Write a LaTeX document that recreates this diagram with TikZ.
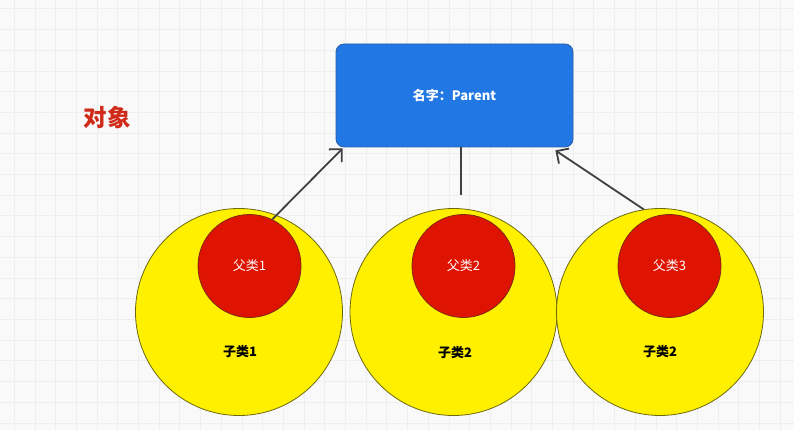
\documentclass[tikz,border=0pt]{standalone}
\usepackage{fontspec}
\setmainfont{Noto Sans CJK SC}
\usetikzlibrary{arrows.meta}
\definecolor{bgc}{HTML}{F9F9F9}
\definecolor{gridc}{HTML}{EEEEEE}
\definecolor{boxblue}{HTML}{2178E4}
\definecolor{boxedge}{HTML}{2E5EA6}
\definecolor{yel}{HTML}{FFF000}
\definecolor{yeledge}{HTML}{6E6A10}
\definecolor{redf}{HTML}{DF1400}
\definecolor{rededge}{HTML}{7E2A12}
\definecolor{titlered}{HTML}{D02A18}
\definecolor{linec}{HTML}{404040}
\tikzset{
  outer/.style={circle, draw=yeledge, fill=yel, line width=0.8pt, inner sep=0pt, minimum size=207pt},
  inner/.style={circle, draw=rededge, fill=redf, line width=0.8pt, inner sep=0pt, minimum size=103pt, text=white, font=\fontsize{13}{15}\selectfont},
  sublabel/.style={font=\fontsize{13}{15}\selectfont\bfseries, text=black},
  arr/.style={draw=linec, line width=1.8pt, -{Straight Barb[length=9pt,width=18pt]}},
  plain/.style={draw=linec, line width=1.8pt}
}
\begin{document}
\begin{tikzpicture}[x=1pt,y=-1pt]
\useasboundingbox (0,0) rectangle (794,430);
\fill[bgc] (0,0) rectangle (794,430);
\foreach \i in {0,...,38} {\draw[gridc, line width=1pt] ({14.3+20.7*\i},0) -- ({14.3+20.7*\i},430);}
\foreach \j in {0,...,20} {\draw[gridc, line width=1pt] (0,{9+20.7*\j}) -- (794,{9+20.7*\j});}

\node[font=\fontsize{23.5}{27}\selectfont\bfseries, text=titlered] (title) at (107,117.5) {对象};

\node[rectangle, rounded corners=8pt, draw=boxedge, fill=boxblue, line width=0.8pt,
      minimum width=237pt, minimum height=103pt, text=white,
      font=\fontsize{13}{15}\selectfont\bfseries] (parent) at (454.5,95.5) {名字：Parent};

\node[outer] (y1) at (239,312) {};
\node[outer] (y2) at (453.5,312) {};
\node[outer] (y3) at (660,312) {};
\node[inner] (r1) at (249.5,266) {父类1};
\node[inner] (r2) at (463.5,266) {父类2};
\node[inner] (r3) at (669.5,266) {父类3};
\node[sublabel] (s1) at (240,352) {子类1};
\node[sublabel] (s2) at (455,353) {子类2};
\node[sublabel] (s3) at (660,352) {子类2};

\coordinate (free) at (461,195);
\draw[arr] (r1.64) -- ([xshift=7pt,yshift=-1pt]parent.south west);
\draw[plain] ([xshift=6.5pt]parent.south) -- (free);
\draw[arr] (y3.99) -- ([xshift=-18pt,yshift=-3pt]parent.south east);
\end{tikzpicture}
\end{document}
